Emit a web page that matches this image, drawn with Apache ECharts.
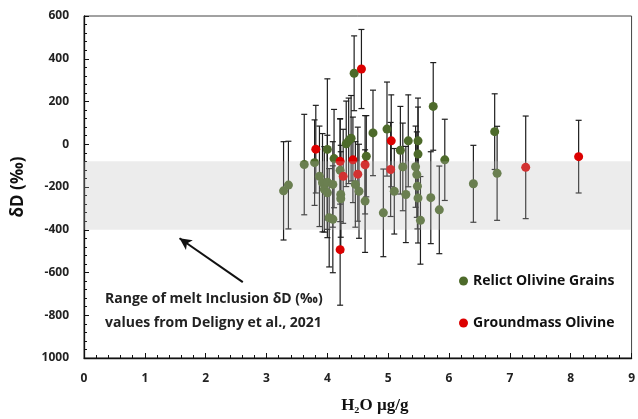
<!DOCTYPE html>
<html>
<head>
<meta charset="utf-8">
<script src="https://cdn.jsdelivr.net/npm/echarts@6/dist/echarts.min.js"></script>
<style>
html,body{margin:0;padding:0;background:#fff;}
#chart{width:638px;height:419px;}
</style>
</head>
<body>
<div id="chart"></div>
<script>
// ---- Data ----
const relictX = [3.28, 3.36, 3.62, 3.79, 3.87, 3.92, 3.95, 4.00, 4.00, 4.03, 4.09, 4.09, 4.00, 4.11, 4.21, 4.22, 4.22, 4.31, 4.35, 4.39, 4.44, 4.46, 4.52, 4.62, 4.64, 4.75, 4.92, 4.98, 5.10, 5.20, 5.24, 5.29, 5.33, 5.45, 5.47, 5.48, 5.49, 5.49, 5.49, 5.53, 5.70, 5.74, 5.84, 5.93, 6.40, 6.75, 6.79];
const relictY = [-218, -191, -95, -86, -150, -180, -211, -178, -227, -344, -351, -188, -24, -67, -122, -235, -255, 2, 16, 28, 332, -188, -220, -266, -56, 53, -321, 71, -220, -28, -106, -235, 16, -105, -142, -196, -252, 16, -46, -356, -250, 177, -307, -73, -185, 59, -136];
const relictErr = [230, 205, 235, 200, 235, 230, 200, 220, 210, 230, 250, 200, 330, 230, 240, 200, 250, 200, 200, 200, 175, 200, 220, 240, 190, 200, 205, 220, 200, 205, 205, 225, 215, 190, 200, 200, 210, 200, 220, 205, 215, 205, 205, 190, 180, 177, 220];

const groundX = [3.81, 4.21, 4.26, 4.21, 4.42, 4.50, 4.56, 4.62, 5.05, 5.04, 7.26, 8.13];
const groundY = [-23, -80, -150, -493, -73, -140, 352, -96, 16, -118, -108, -58];
const groundErr = [205, 200, 220, 260, 200, 220, 185, 230, 215, 220, 240, 170];

// grey band: range of melt inclusion δD values (Deligny et al., 2021)
const bandX = [0, 9];
const bandY = [-80, -400];

// annotation arrow (data coordinates)
const arrowFrom = [2.61, -645];
const arrowTo = [1.57, -440];

const seriesNames = ['Relict Olivine Grains', 'Groundmass Olivine'];
const yTickValues = [-1000, -800, -600, -400, -200, 0, 200, 400, 600];
const yTickLabels = ['1000', '-800', '-600', '-400', '-200', '0', '200', '400', '600'];
const xTickLabels = ['0', '1', '2', '3', '4', '5', '6', '7', '8', '9'];

// ---- Build ----
function pts(xs, ys) { return xs.map((x, i) => [x, ys[i]]); }
function errPts(xs, ys, es) { return xs.map((x, i) => [x, ys[i], es[i]]); }

function renderErr(params, api) {
  const x = api.value(0), y = api.value(1), e = api.value(2);
  const top = api.coord([x, y + e]);
  const bot = api.coord([x, y - e]);
  const w = 3;
  const st = { stroke: '#1e1e1e', lineWidth: 1.2 };
  return {
    type: 'group',
    children: [
      { type: 'line', shape: { x1: top[0], y1: top[1], x2: bot[0], y2: bot[1] }, style: st },
      { type: 'line', shape: { x1: top[0] - w, y1: top[1], x2: top[0] + w, y2: top[1] }, style: st },
      { type: 'line', shape: { x1: bot[0] - w, y1: bot[1], x2: bot[0] + w, y2: bot[1] }, style: st }
    ]
  };
}

function renderBand(params, api) {
  const p1 = api.coord([api.value(0), api.value(1)]);
  const p2 = api.coord([api.value(2), api.value(3)]);
  return {
    type: 'rect',
    shape: { x: p1[0], y: p1[1], width: p2[0] - p1[0], height: p2[1] - p1[1] },
    style: { fill: 'rgba(184,184,184,0.27)' }
  };
}

const FONT = '"Open Sans", "Noto Sans", sans-serif';

const chart = echarts.init(document.getElementById('chart'), null, { renderer: 'canvas' });
chart.setOption({
  animation: false,
  backgroundColor: '#fff',
  grid: { left: 84, right: 5, top: 16, bottom: 59, show: true, borderColor: '#444', borderWidth: 1 },
  legend: {
    orient: 'vertical',
    left: 454, top: 269,
    itemWidth: 9, itemHeight: 9, itemGap: 28,
    icon: 'circle',
    data: seriesNames,
    textStyle: { fontFamily: FONT, fontWeight: 'bold', fontSize: 14, color: '#111' }
  },
  xAxis: {
    type: 'value', min: 0, max: 9, interval: 1,
    name: 'H\u2082O \u00b5g/g', nameLocation: 'middle', nameGap: 39,
    nameTextStyle: { fontFamily: '"Liberation Serif", serif', fontWeight: 'bold', fontSize: 17, color: '#111', padding: [0, 0, 0, 34] },
    axisLine: { onZero: false, lineStyle: { color: '#111', width: 1.3 } },
    axisTick: { inside: true, length: 5, lineStyle: { color: '#111' } },
    minorTick: { show: true, splitNumber: 5, length: 3, lineStyle: { color: '#111' } },
    splitLine: { show: false },
    axisLabel: { margin: 15, fontFamily: FONT, fontWeight: 'bold', fontSize: 12, color: '#222',
      formatter: v => xTickLabels[Math.round(v)] },
  },
  yAxis: {
    type: 'value', min: -1000, max: 600, interval: 200,
    name: '\u03b4D (\u2030)', nameLocation: 'middle', nameGap: 57, nameRotate: 90,
    nameTextStyle: { fontFamily: FONT, fontWeight: 'bold', fontSize: 17, color: '#111' },
    axisLine: { onZero: false, lineStyle: { color: '#111', width: 1.3 } },
    axisTick: { inside: true, length: 5, lineStyle: { color: '#111' } },
    minorTick: { show: true, splitNumber: 5, length: 3, lineStyle: { color: '#111' } },
    splitLine: { show: false },
    axisLabel: { margin: 15, fontFamily: FONT, fontWeight: 'bold', fontSize: 12, color: '#222',
      formatter: v => yTickLabels[yTickValues.indexOf(Math.round(v))] },
  },
  series: [
    { name: 'relictErr', type: 'custom', renderItem: renderErr, data: errPts(relictX, relictY, relictErr), z: 2, silent: true },
    { name: 'groundErr', type: 'custom', renderItem: renderErr, data: errPts(groundX, groundY, groundErr), z: 2, silent: true },
    { name: seriesNames[0], type: 'scatter', data: pts(relictX, relictY), symbolSize: 9, itemStyle: { color: '#4d6a2a', opacity: 1 }, z: 3 },
    { name: seriesNames[1], type: 'scatter', data: pts(groundX, groundY), symbolSize: 9, itemStyle: { color: '#dc0000', opacity: 1 }, z: 4 },
    { name: 'band', type: 'custom', renderItem: renderBand, data: [[bandX[0], bandY[0], bandX[1], bandY[1]]], z: 6, silent: true,
      markLine: {
        silent: true, symbol: ['none', 'arrow'], symbolSize: [9, 12],
        lineStyle: { color: '#111', width: 2, type: 'solid' },
        label: { show: false },
        data: [[{ coord: arrowFrom }, { coord: arrowTo }]]
      }
    }
  ],
  graphic: [
    { type: 'text', left: 105, top: 292, style: { text: 'Range of melt Inclusion \u03b4D (\u2030)', font: 'bold 14px "Open Sans", "Noto Sans", sans-serif', fill: '#222' } },
    { type: 'text', left: 105, top: 316, style: { text: 'values from Deligny et al., 2021', font: 'bold 14px "Open Sans", "Noto Sans", sans-serif', fill: '#222' } }
  ]
});
</script>
</body>
</html>
